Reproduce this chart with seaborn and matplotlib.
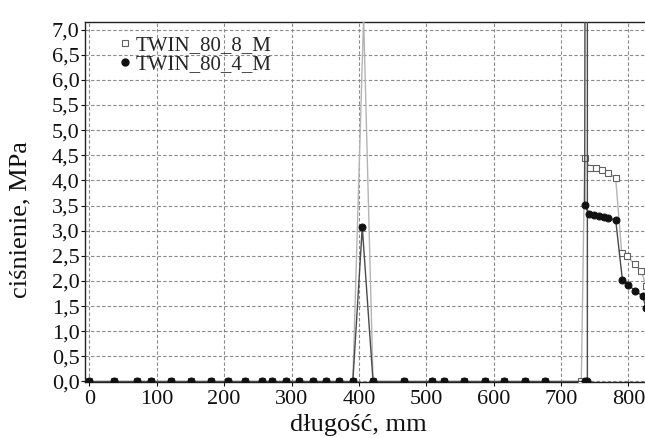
import matplotlib
matplotlib.use("Agg")
import matplotlib.pyplot as plt
import seaborn as sns
import pandas as pd
from matplotlib.lines import Line2D
from matplotlib.ticker import FuncFormatter, MultipleLocator

# ---- data ----
zero_x = [0, 37, 71, 92, 121, 151, 181, 206, 231, 256, 271, 292, 311, 332, 351, 371, 391]
mid_zero_x = [421, 467, 508, 526, 556, 587, 616, 646, 676]

x_8 = zero_x + [407] + mid_zero_x + [730, 735, 743, 752, 760, 770, 781, 790, 798, 809, 819, 826]
y_8 = [0.0] * len(zero_x) + [7.25] + [0.0] * len(mid_zero_x) + \
      [0.0, 4.45, 4.25, 4.24, 4.20, 4.15, 4.04, 2.55, 2.50, 2.33, 2.20, 1.90]

x_4 = zero_x + [405] + mid_zero_x + [736, 739, 739, 735, 742, 749, 756, 763, 770, 781, 791, 800, 810, 821, 826]
y_4 = [0.0] * len(zero_x) + [3.07] + [0.0] * len(mid_zero_x) + \
      [0.0, 0.0, 40.0, 3.51, 3.33, 3.31, 3.29, 3.27, 3.25, 3.21, 2.02, 1.92, 1.80, 1.70, 1.46]

label_8 = "TWIN_80_8_M"
label_4 = "TWIN_80_4_M"
x_label = "długość, mm"
y_label = "ciśnienie, MPa"

df8 = pd.DataFrame({"x": x_8, "y": y_8})
df4 = pd.DataFrame({"x": x_4, "y": y_4})

sns.set_style("white")
plt.rcParams["font.family"] = ["Liberation Serif", "DejaVu Serif"]

fig = plt.figure(figsize=(6.45, 4.38), dpi=100)
ax = fig.add_axes([85 / 645, 1 - 382 / 438, 1 - 85 / 645, (382 - 22) / 438])

sns.lineplot(data=df8, x="x", y="y", sort=False, estimator=None, ax=ax,
             color="#b4b4b4", lw=1.0, marker="s", markersize=4.5,
             markerfacecolor="white", markeredgecolor="#606060", markeredgewidth=0.8,
             zorder=3, clip_on=True)
sns.lineplot(data=df4, x="x", y="y", sort=False, estimator=None, ax=ax,
             color="#4a4a4a", lw=1.0, marker="o", markersize=5,
             markerfacecolor="#111111", markeredgecolor="#111111",
             zorder=4, clip_on=True)

ax.set_xlim(-6.4, 824.5)
ax.set_ylim(-0.01, 7.15)
ax.xaxis.set_major_locator(MultipleLocator(100))
ax.yaxis.set_major_locator(MultipleLocator(0.5))
ax.yaxis.set_major_formatter(FuncFormatter(lambda v, p: f"{v:.1f}".replace(".", ",")))

ax.grid(True, color="#8a8a8a", linestyle=(0, (3, 2)), linewidth=0.8)
ax.set_axisbelow(True)

for s in ["left", "bottom", "top"]:
    ax.spines[s].set_visible(True)
    ax.spines[s].set_color("#222222")
    ax.spines[s].set_linewidth(1.0)
ax.spines["right"].set_visible(False)

ax.tick_params(axis="both", labelsize=16, colors="#111111", length=3,
               direction="out", left=True, bottom=True, pad=1)
ax.tick_params(axis="x", pad=3)
ax.set_xlabel(x_label, fontsize=19, color="#111111")
ax.set_ylabel(y_label, fontsize=19, color="#111111")
ax.xaxis.set_label_coords(0.489, -0.119)
ax.xaxis.label.set_va("center")
ax.yaxis.set_label_coords(-0.116, 0.45)
ax.yaxis.label.set_va("center")

handles = [
    Line2D([], [], linestyle="none", marker="s", markersize=4.5,
           markerfacecolor="white", markeredgecolor="#606060", markeredgewidth=0.8),
    Line2D([], [], linestyle="none", marker="o", markersize=5,
           markerfacecolor="#111111", markeredgecolor="#111111"),
]
leg = ax.legend(handles, [label_8, label_4], loc="upper left",
                bbox_to_anchor=(0.045, 0.985), frameon=False, fontsize=15,
                handlelength=0.6, handletextpad=0.2, labelspacing=-0.05,
                borderaxespad=0)

fig.savefig("out.png", dpi=100)
